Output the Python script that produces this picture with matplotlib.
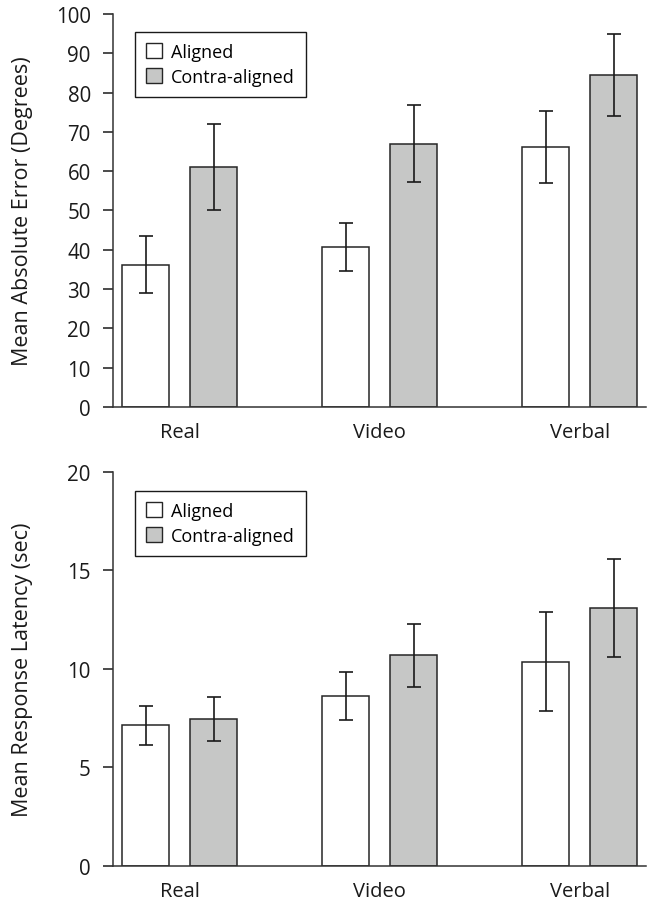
import matplotlib
matplotlib.use("Agg")
import matplotlib.pyplot as plt
import numpy as np
from matplotlib.patches import Patch

plt.rcParams['font.family'] = ['Open Sans', 'DejaVu Sans']

conditions = ['Real', 'Video', 'Verbal']
series = ['Aligned', 'Contra-aligned']

error_aligned = [36.2, 40.8, 66.2]
error_aligned_err = [7.3, 6.1, 9.1]
error_contra = [61.1, 67.0, 84.5]
error_contra_err = [11.0, 9.8, 10.5]

latency_aligned = [7.13, 8.61, 10.36]
latency_aligned_err = [1.0, 1.2, 2.5]
latency_contra = [7.45, 10.68, 13.08]
latency_contra_err = [1.1, 1.6, 2.5]

fill_colors = ['white', '#c6c7c6']
edge = '#262626'

fig = plt.figure(figsize=(6.47, 9.03), dpi=100)
ax1 = fig.add_axes([0.1747, 0.5482, 0.824, 0.4352])
ax2 = fig.add_axes([0.1747, 0.0402, 0.824, 0.4363])

x = np.arange(len(conditions))
w = 0.235
off = 0.17


def draw(ax, vals, errs, ylim, yticks, ylabel, leg_top):
    for i, (v, e) in enumerate(zip(vals, errs)):
        ax.bar(x + (2 * i - 1) * off, v, w, color=fill_colors[i], edgecolor=edge,
               linewidth=1.1, zorder=2)
        ax.errorbar(x + (2 * i - 1) * off, v, yerr=e, fmt='none', ecolor='#1a1a1a',
                    elinewidth=1.2, capsize=4.8, capthick=1.2, zorder=3)
    ax.set_xlim(-0.3325, 2.3325)
    ax.set_ylim(*ylim)
    ax.set_yticks(yticks)
    ax.set_xticks(x)
    ax.set_xticklabels(conditions)
    ax.tick_params(axis='x', length=0, pad=11, labelsize=14.5, colors='#1a1a1a')
    ax.tick_params(axis='y', length=7, width=1.1, direction='out', pad=9,
                   labelsize=14.8, colors='#1a1a1a')
    for s in ['top', 'right']:
        ax.spines[s].set_visible(False)
    for s in ['left', 'bottom']:
        ax.spines[s].set_linewidth(1.1)
        ax.spines[s].set_color('#333333')
    ax.set_ylabel(ylabel, fontsize=15.5, color='#1a1a1a')
    ax.yaxis.set_label_coords(-0.15, 0.5)
    handles = [Patch(facecolor=fill_colors[i], edgecolor=edge, linewidth=1.0)
               for i in range(2)]
    leg = ax.legend(handles, series, loc='upper left', bbox_to_anchor=(0.041, leg_top),
                    borderaxespad=0, fancybox=False, framealpha=1, edgecolor='#1a1a1a',
                    fontsize=13, handlelength=0.9, handleheight=0.9, handletextpad=0.5,
                    labelspacing=0.4, borderpad=0.6)
    leg.get_frame().set_linewidth(1.0)


draw(ax1, [error_aligned, error_contra], [error_aligned_err, error_contra_err],
     (0, 100), np.arange(0, 101, 10), 'Mean Absolute Error (Degrees)', 0.954)
draw(ax2, [latency_aligned, latency_contra], [latency_aligned_err, latency_contra_err],
     (0, 20), np.arange(0, 21, 5), 'Mean Response Latency (sec)', 0.951)

plt.savefig('out.png', dpi=100)
